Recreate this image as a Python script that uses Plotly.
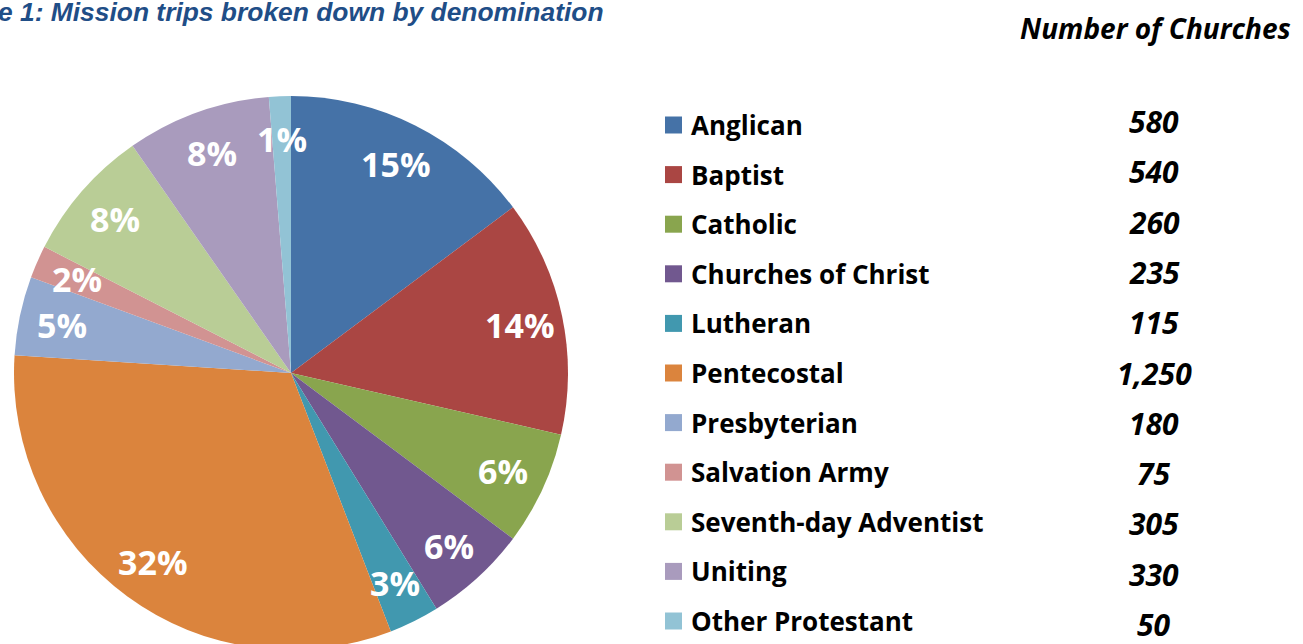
import math
import plotly.graph_objects as go

denominations = ["Anglican", "Baptist", "Catholic", "Churches of Christ", "Lutheran",
                 "Pentecostal", "Presbyterian", "Salvation Army", "Seventh-day Adventist",
                 "Uniting", "Other Protestant"]
churches = [580, 540, 260, 235, 115, 1250, 180, 75, 305, 330, 50]
pct_labels = ["15%", "14%", "6%", "6%", "3%", "32%", "5%", "2%", "8%", "8%", "1%"]
colors = ["#4572A7", "#AA4643", "#89A54E", "#71588F", "#4198AF", "#DB843D",
          "#93A9CF", "#D19392", "#B9CD96", "#A99BBD", "#92C3D5"]
title_text = "Figure 1: Mission trips broken down by denomination"
header_text = "Number of Churches"

W, H = 1303, 652  # window shows the top 644 px; pie runs off the bottom edge
cx, cy, R = 291, 373, 277
LBL_FONT = "Open Sans"


def px(x):
    return x / W


def py(y):
    return 1 - y / H


fig = go.Figure()
fig.add_trace(go.Pie(
    labels=denominations, values=churches, sort=False, direction="clockwise",
    rotation=0, marker=dict(colors=colors, line=dict(width=0)),
    textinfo="none", hoverinfo="label+value+percent", showlegend=False,
    domain=dict(x=[px(cx - R), px(cx + R)], y=[max(0, py(cy + R)), py(cy - R)]),
))

ann = []
shapes = []
total = sum(churches)
cum = 0.0
for v, lab in zip(churches, pct_labels):
    th = 2 * math.pi * (cum + v / 2) / total
    cum += v
    r = 0.845 * R
    lx = cx + r * math.sin(th)
    ly = cy - r * math.cos(th)
    ann.append(dict(x=px(lx), y=py(ly), xref="paper", yref="paper", text=lab,
                    showarrow=False, xanchor="center", yanchor="middle",
                    font=dict(family=LBL_FONT, size=34, color="white", weight="bold")))

# legend rows
leg_y0, leg_step = 125, 49.6
num_y0, num_step = 121.5, 50.3
for i, (name, col, n) in enumerate(zip(denominations, colors, churches)):
    y = leg_y0 + i * leg_step
    shapes.append(dict(type="rect", xref="paper", yref="paper",
                       x0=px(665), x1=px(682), y0=py(y + 8.5), y1=py(y - 8.5),
                       fillcolor=col, line=dict(width=0)))
    ann.append(dict(x=px(689), y=py(y), xref="paper", yref="paper", text=name,
                    showarrow=False, xanchor="left", yanchor="middle",
                    font=dict(family=LBL_FONT, size=26, color="black", weight="bold")))
    yn = num_y0 + i * num_step
    ann.append(dict(x=px(1154), y=py(yn), xref="paper", yref="paper", text=f"{n:,}",
                    showarrow=False, xanchor="center", yanchor="middle",
                    font=dict(family=LBL_FONT, size=30, color="black", weight="bold",
                              style="italic")))

ann.append(dict(x=px(1155), y=py(28), xref="paper", yref="paper", text=header_text,
                showarrow=False, xanchor="center", yanchor="middle",
                font=dict(family=LBL_FONT, size=28, color="black", weight="bold",
                          style="italic")))
ann.append(dict(x=px(606), y=py(12), xref="paper", yref="paper", text=title_text,
                showarrow=False, xanchor="right", yanchor="middle",
                font=dict(family="Liberation Sans", size=26.4, color="#1F4E87",
                          weight="bold", style="italic")))

fig.update_layout(width=W, height=H, margin=dict(l=0, r=0, t=0, b=0),
                  paper_bgcolor="white", plot_bgcolor="white",
                  annotations=ann, shapes=shapes)
fig.write_html("out.html", config={"displayModeBar": False},
               post_script="document.body.style.margin='0px';"
                           "document.body.style.overflow='hidden';")
